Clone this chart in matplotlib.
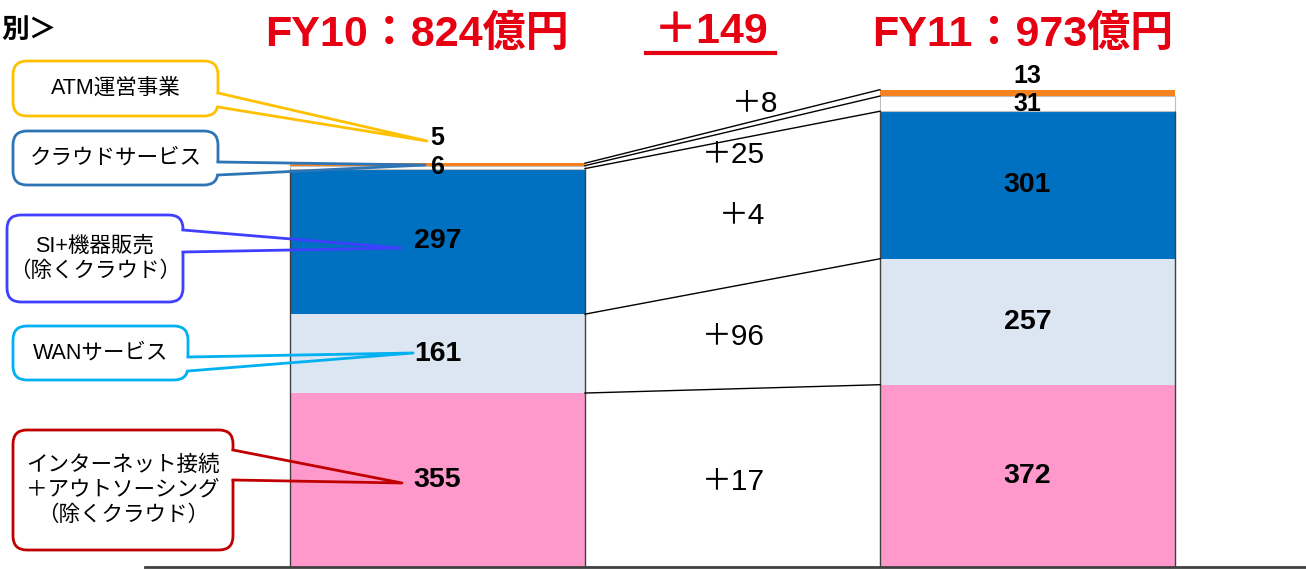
import matplotlib
matplotlib.use('Agg')
import matplotlib.pyplot as plt
from matplotlib.patches import FancyBboxPatch
from matplotlib.transforms import Affine2D

# データ（億円）
categories = ['FY10', 'FY11']
internet = [355, 372]
wan = [161, 257]
si = [297, 301]
cloud = [6, 31]
atm = [5, 13]
totals = [824, 973]
segments = [internet, wan, si, cloud, atm]
segment_names = ['インターネット接続\n＋アウトソーシング\n（除くクラウド）',
                 'WANサービス',
                 'SI+機器販売\n（除くクラウド）',
                 'クラウドサービス',
                 'ATM運営事業']

colors = ['#FF99CC', '#DCE6F2', '#0070C0', '#FFFFFF', '#F5821F']
box_colors = ['#C00000', '#00B0F0', '#3F3FFF', '#2E75B6', '#FFC000']

W, H = 1306, 570
plt.rcParams['font.family'] = ['Liberation Sans', 'Noto Sans CJK JP']

fig = plt.figure(figsize=(W / 100, H / 100), dpi=100)
ax = fig.add_axes([0, 0, 1, 1])
ax.set_xlim(-0.7415, 1.472)
ax.set_ylim(-6.1, 1157)
ax.axis('off')

# ピクセル座標（左上原点）
pix = Affine2D().scale(1 / W, -1 / H).translate(0, 1) + fig.transFigure

x = [0, 1]
bw = 0.5

# 積み上げ棒
bottoms = [0, 0]
tops = []
for seg, c in zip(segments, colors):
    ec = '#BFBFBF' if c == '#FFFFFF' else 'none'
    ax.bar(x, seg, bottom=bottoms, width=bw, color=c, edgecolor=ec, lw=0.8, zorder=2)
    bottoms = [b + v for b, v in zip(bottoms, seg)]
    tops.append(list(bottoms))

# 棒の側線
blue_top = tops[2]
for i in range(2):
    ax.vlines([x[i] - bw / 2, x[i] + bw / 2], 0, blue_top[i], color='#404040', lw=1, zorder=3)

# 棒をつなぐ線
for t in tops:
    ax.plot([x[0] + bw / 2, x[1] - bw / 2], t, color='black', lw=1, zorder=3)

# 基線
ax.axhline(0, xmin=145 / W, xmax=1, color='#404040', lw=2, zorder=4)

# 棒内の値
bottoms = [0, 0]
atm_dy = [51, 27]
for k, seg in enumerate(segments):
    for i in range(2):
        if k < 3:
            ax.text(x[i], bottoms[i] + seg[i] / 2, str(seg[i]), ha='center', va='center',
                    fontsize=20.5, fontweight='bold', zorder=6)
        elif k == 3:
            ax.text(x[i], bottoms[i] + seg[i] / 2, str(seg[i]), ha='center', va='center',
                    fontsize=18, fontweight='bold', zorder=6)
        else:
            ax.text(x[i], bottoms[i] + seg[i] + atm_dy[i], str(seg[i]), ha='center',
                    va='center', fontsize=18, fontweight='bold', zorder=6)
    bottoms = [b + v for b, v in zip(bottoms, seg)]

# 増減
diff_pos = [(733, 482), (733, 337), (742, 216), (733, 155), (755, 104)]
for seg, (px, py) in zip(segments, diff_pos):
    d = seg[1] - seg[0]
    ax.text(px, py, f'＋{d}', transform=pix, ha='center', va='center', fontsize=21.5, zorder=6)

# 見出し
red = '#E60012'
ax.text(417, 35, f'{categories[0]}：{totals[0]}億円', transform=pix,
        ha='center', va='center', fontsize=31, fontweight='bold', color=red)
ax.text(1023, 35, f'{categories[1]}：{totals[1]}億円', transform=pix,
        ha='center', va='center', fontsize=31, fontweight='bold', color=red)
ax.text(711, 32, f'＋{totals[1] - totals[0]}', transform=pix, ha='center', va='center',
        fontsize=31, fontweight='bold', color=red)
ax.plot([646, 775], [53, 53], transform=pix, color=red, lw=3)
ax.text(1, 31, '別＞', transform=pix, ha='left', va='center', fontsize=20, fontweight='bold')

# 吹き出し: (left, top, right, bottom), 付け根y1, y2, 先端
boxes = [
    ((13, 430, 233, 550), 450, 480, (402, 483)),
    ((13, 326, 188, 380), 357, 371, (413, 353)),
    ((7, 215, 183, 302), 230, 252, (400, 248)),
    ((13, 131, 218, 185), 162, 175, (425, 165)),
    ((13, 61, 218, 116), 93, 107, (427, 141)),
]
for name, bc, (rect, y1, y2, tip) in zip(segment_names, box_colors, boxes):
    l, t, r, b = rect
    ax.add_patch(FancyBboxPatch((l, t), r - l, b - t, boxstyle='round,pad=0,rounding_size=14',
                                transform=pix, facecolor='white', edgecolor=bc, lw=2, zorder=7))
    ax.plot([r, r], [y1 + 1, y2 - 1], transform=pix, color='white', lw=4, zorder=8,
            solid_capstyle='butt')
    ax.plot([r, tip[0], r], [y1, tip[1], y2], transform=pix, color=bc, lw=2, zorder=8)
    ax.text((l + r) / 2, (t + b) / 2, name, transform=pix, ha='center', va='center',
            fontsize=15.5, linespacing=1.25, zorder=9)

fig.savefig('out.png', dpi=100)
